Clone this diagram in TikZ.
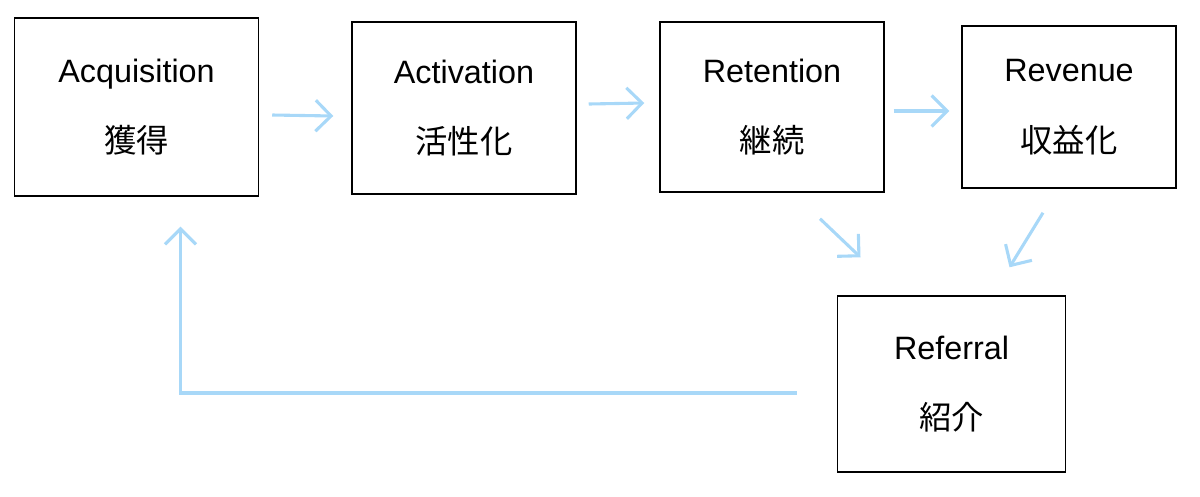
\documentclass[tikz,border=0pt]{standalone}
\usepackage{fontspec}
\setmainfont{Liberation Sans}
\newfontfamily\jpfont{Noto Sans CJK JP}
\usetikzlibrary{arrows.meta, positioning}
\definecolor{flowblue}{HTML}{A8D8F8}

\begin{document}
\begin{tikzpicture}[
        x=0.025cm, y=-0.025cm,
        every node/.style={align=center, font=\fontsize{23}{50}\selectfont},
        stage/.style={draw, line width=1pt, minimum width=#1},
        flow/.style={draw=flowblue, line width=2.2pt, -{Straight Barb[length=11pt, width=22pt]}}
    ]
      \useasboundingbox (0,0) rectangle (1200,496);
      \node[stage=6.1cm, minimum height=4.45cm] (acq) at (136.5,107) {Acquisition\\{\jpfont 獲得}};
      \node[stage=5.6cm, minimum height=4.3cm] (act) at (464,108) {Activation\\{\jpfont 活性化}};
      \node[stage=5.6cm, minimum height=4.25cm] (ret) at (772,107) {Retention\\{\jpfont 継続}};
      \node[stage=5.35cm, minimum height=4.05cm] (rev) at (1069,107) {Revenue\\{\jpfont 収益化}};
      \node[stage=5.7cm, minimum height=4.4cm] (ref) at (951.5,384) {Referral\\{\jpfont 紹介}};

      \draw[flow] ([shift={(13,8)}]acq.east) -- ([shift={(-18,8)}]act.west);
      \draw[flow] ([shift={(12,-4)}]act.east) -- ([shift={(-15,-4)}]ret.west);
      \draw[flow] ([shift={(9,4)}]ret.east) -- ([shift={(-12,4)}]rev.west);
      \draw[flow] ([shift={(48,26)}]ret.south) -- ([shift={(-91,-38)}]ref.north);
      \draw[flow] ([shift={(-26,24)}]rev.south) -- ([shift={(58,-28)}]ref.north);
      \draw[flow] ([shift={(-40,9)}]ref.west) -| ([shift={(44,30)}]acq.south);
\end{tikzpicture}
\end{document}
